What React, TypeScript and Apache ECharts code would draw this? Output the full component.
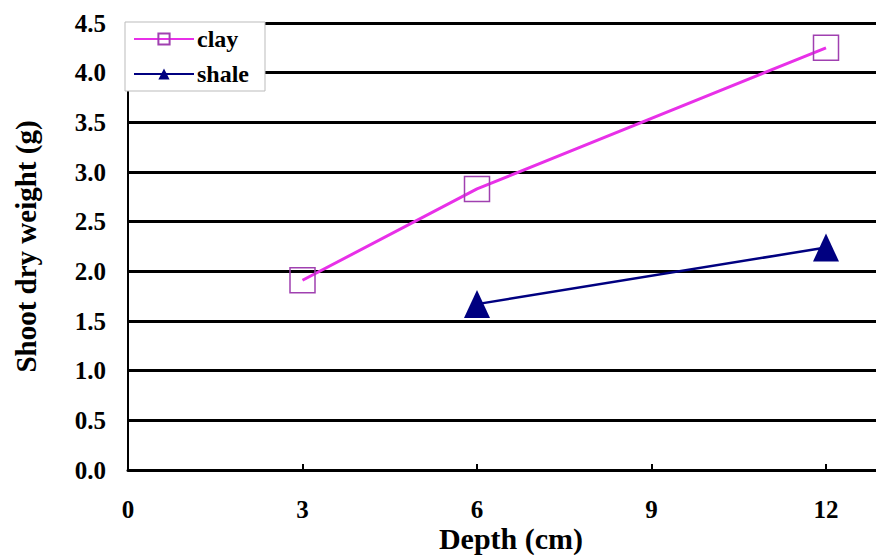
import React, { useEffect, useRef } from "react";
import * as echarts from "echarts";

const depthTicks = [0, 3, 6, 9, 12];
const clayDepth = [3, 6, 12];
const clayWeight = [1.91, 2.83, 4.25];
const shaleDepth = [6, 12];
const shaleWeight = [1.67, 2.24];
const seriesNames = ["clay", "shale"];

const FONT = "'Liberation Serif', 'Times New Roman', serif";

export default function App() {
  const ref = useRef<HTMLDivElement>(null);
  useEffect(() => {
    document.body.style.margin = "0";
    if (!ref.current) return;
    const chart = echarts.init(ref.current, null, { renderer: "svg" });
    const option: any = {
      animation: false,
      backgroundColor: "#ffffff",
      textStyle: { fontFamily: FONT },
      grid: { left: 128, right: -124.5, top: 23, bottom: 85, containLabel: false, outerBoundsMode: "none" },
      legend: {
        data: seriesNames,
        orient: "vertical",
        left: 125,
        top: 22,
        padding: [5, 16, 5, 8],
        itemWidth: 60,
        itemHeight: 14,
        itemGap: 11,
        backgroundColor: "#ffffff",
        borderColor: "#bbbbbb",
        borderWidth: 1,
        z: 10,
        textStyle: { fontFamily: FONT, fontWeight: "bold", fontSize: 24, color: "#000", padding: [0, 0, 0, -2] },
      },
      xAxis: {
        type: "value",
        min: 0,
        max: 15,
        interval: 3,
        axisLine: { show: true, lineStyle: { color: "#000", width: 3 } },
        axisTick: { show: true, inside: true, length: 6, lineStyle: { color: "#000", width: 2 } },
        splitLine: { show: false },
        axisLabel: {
          margin: 27,
          fontFamily: FONT,
          fontWeight: "bold",
          fontSize: 25,
          color: "#000",
          formatter: (v: number) => (depthTicks.indexOf(v) >= 0 ? String(v) : ""),
        },
      },
      yAxis: {
        type: "value",
        min: 0,
        max: 4.5,
        interval: 0.5,
        name: "Shoot dry weight (g)",
        nameLocation: "middle",
        nameGap: 88,
        nameTextStyle: { fontFamily: FONT, fontWeight: "bold", fontSize: 29, color: "#000" },
        axisLine: { show: true, lineStyle: { color: "#000", width: 2 } },
        axisTick: { show: false },
        splitLine: { show: true, lineStyle: { color: "#000", width: 3 } },
        axisLabel: {
          margin: 22,
          fontFamily: FONT,
          fontWeight: "bold",
          fontSize: 25,
          color: "#000",
          formatter: (v: number) => v.toFixed(1),
        },
      },
      graphic: [
        {
          type: "text",
          x: 511,
          y: 538,
          z: 100,
          style: {
            text: "Depth (cm)",
            align: "center",
            verticalAlign: "middle",
            fontFamily: FONT,
            fontWeight: "bold",
            fontSize: 30,
            fill: "#000",
          },
        },
      ],
      series: [
        {
          name: seriesNames[0],
          type: "line",
          data: clayDepth.map((d, i) => [d, clayWeight[i]]),
          symbol: "rect",
          symbolSize: 25,
          lineStyle: { color: "#e830e8", width: 3 },
          itemStyle: { color: "rgba(255,255,255,0)", borderColor: "#a040b0", borderWidth: 1.5 },
          z: 5,
        },
        {
          name: seriesNames[1],
          type: "line",
          data: shaleDepth.map((d, i) => [d, shaleWeight[i]]),
          symbol: "triangle",
          symbolSize: [26, 28],
          lineStyle: { color: "#000080", width: 2.5 },
          itemStyle: { color: "#000080", borderColor: "#000080", borderWidth: 0 },
          z: 5,
        },
      ],
    };
    chart.setOption(option);
    return () => chart.dispose();
  }, []);
  return <div ref={ref} style={{ width: 876, height: 555 }} />;
}
